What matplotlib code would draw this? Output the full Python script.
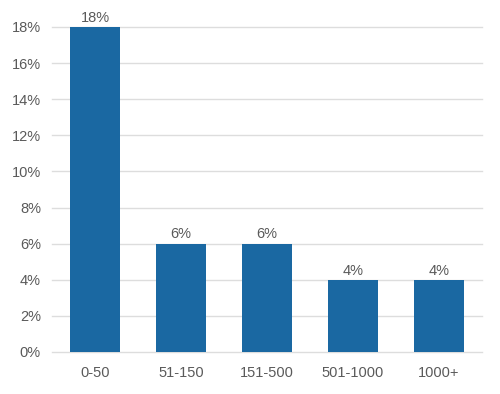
import matplotlib
matplotlib.use('Agg')
import matplotlib.pyplot as plt

# chart data
categories = ["0-50", "51-150", "151-500", "501-1000", "1000+"]
values = [18, 6, 6, 4, 4]
y_ticks = [0, 2, 4, 6, 8, 10, 12, 14, 16, 18]

plt.rcParams['font.family'] = ['Liberation Sans', 'DejaVu Sans']

fig = plt.figure(figsize=(5, 3.94), dpi=100)
ax = fig.add_axes([0.104, 0.1066, 0.86, 0.8249])

x = range(len(categories))
bars = ax.bar(x, values, width=0.58, color="#1a68a2", zorder=3)

for b, v in zip(bars, values):
    ax.text(b.get_x() + b.get_width() / 2, v + 0.12, f"{v}%", ha="center", va="bottom",
            fontsize=10.5, color="#5a5a5a", clip_on=False)

ax.set_xlim(-0.5, len(categories) - 0.5)
ax.set_ylim(0, 18)
ax.set_yticks(y_ticks)
ax.set_yticklabels([f"{t}%" for t in y_ticks])
ax.set_xticks(list(x))
ax.set_xticklabels(categories)
ax.tick_params(axis="both", length=0, labelsize=10.5, labelcolor="#5a5a5a")
ax.tick_params(axis="y", pad=8)
ax.tick_params(axis="x", pad=10)
ax.yaxis.grid(True, color="#dddddd", linewidth=1, zorder=0)
for gl in ax.get_ygridlines():
    gl.set_clip_on(False)
for s in ax.spines.values():
    s.set_visible(False)

plt.savefig("out.png", dpi=100)
plt.close()
